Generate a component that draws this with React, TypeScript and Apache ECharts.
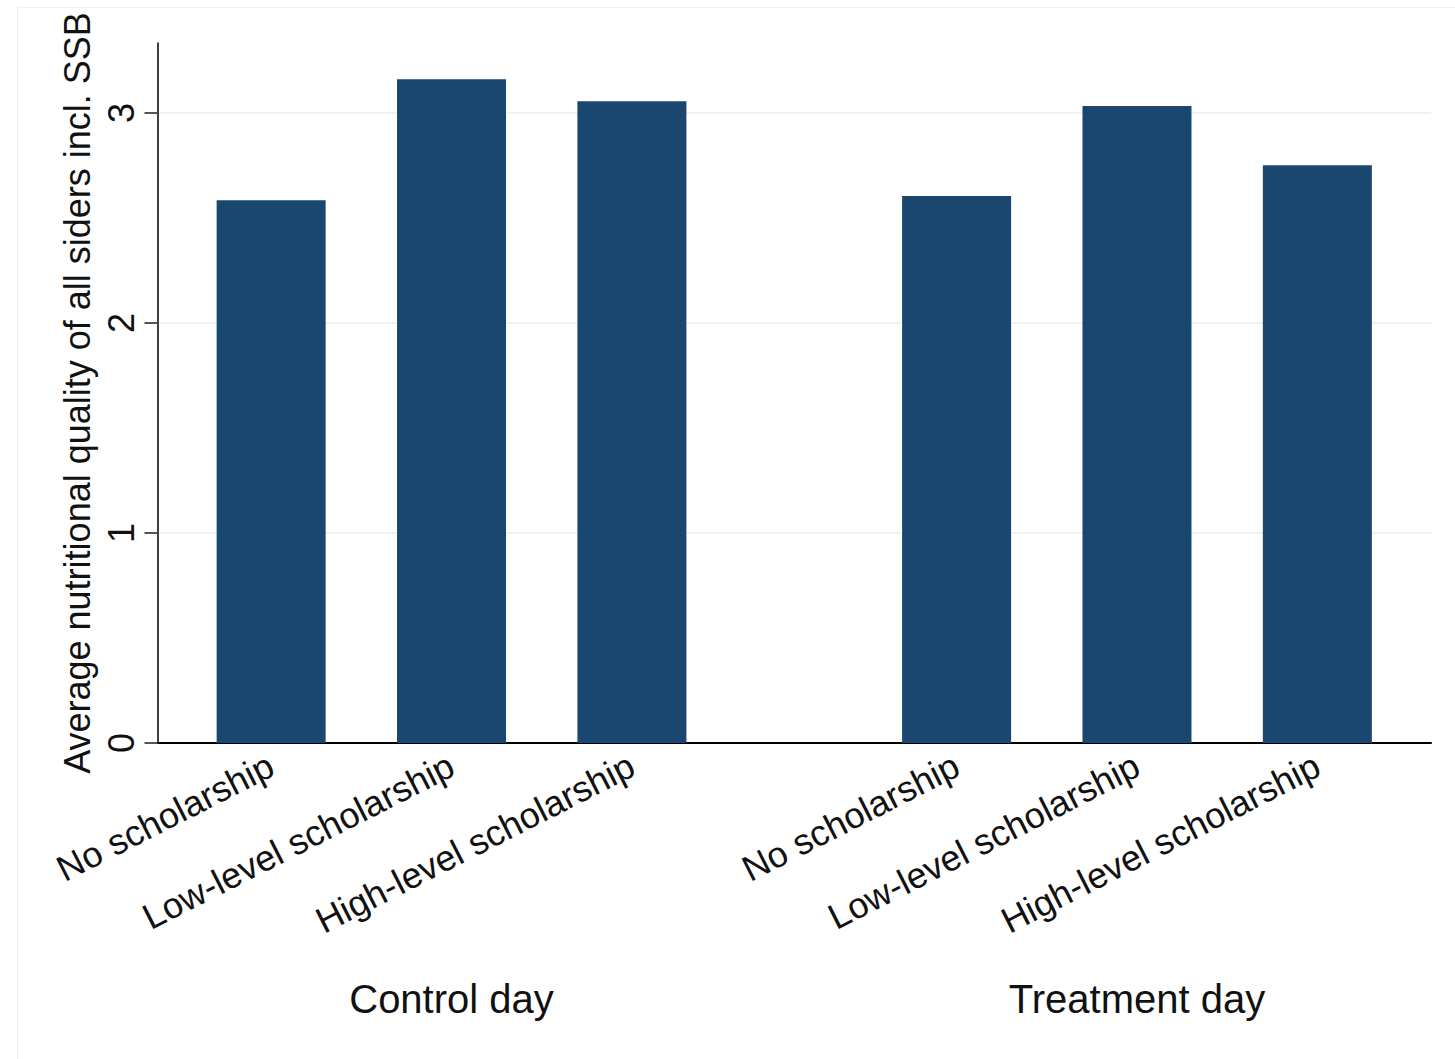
import React, { useEffect, useRef } from "react";
import * as echarts from "echarts";

const categories = [
  "No scholarship",
  "Low-level scholarship",
  "High-level scholarship",
  "No scholarship",
  "Low-level scholarship",
  "High-level scholarship",
];
const positions = [0, 1, 2, 3.8, 4.8, 5.8];
const values = [2.584, 3.16, 3.056, 2.605, 3.033, 2.751];
const groups = ["Control day", "Treatment day"];
const groupPositions = [1, 4.8];
const yTicks = [0, 1, 2, 3];
const yTitle = "Average nutritional quality of all siders incl. SSB";

const FONT = "'Liberation Sans', Arial, Helvetica, sans-serif";

function labelAt(v: number, pos: number[], labels: string[]) {
  const i = pos.findIndex((p) => Math.abs(p - v) < 1e-6);
  return i >= 0 ? labels[i] : "";
}

export default function App() {
  const ref = useRef<HTMLDivElement>(null);
  useEffect(() => {
    const chart = echarts.init(ref.current!, null, { renderer: "svg" });
    chart.setOption({
      animation: false,
      backgroundColor: "#ffffff",
      textStyle: { fontFamily: FONT },
      grid: { left: 157.5, right: 24, top: 43, bottom: 316, containLabel: false },
      xAxis: [
        {
          type: "value",
          min: -0.63,
          max: 6.43,
          axisLine: { show: true, onZero: false, lineStyle: { color: "#000", width: 2 } },
          axisTick: { show: false },
          splitLine: { show: false },
          axisLabel: {
            customValues: positions,
            formatter: (v: number) => labelAt(v, positions, categories),
            rotate: 27,
            fontSize: 36,
            color: "#111",
            margin: 20,
            fontFamily: FONT,
          },
        },
        {
          type: "value",
          min: -0.63,
          max: 6.43,
          position: "bottom",
          axisLine: { show: false },
          axisTick: { show: false },
          splitLine: { show: false },
          axisLabel: {
            customValues: groupPositions,
            formatter: (v: number) => labelAt(v, groupPositions, groups),
            fontSize: 40,
            color: "#111",
            margin: 236,
            fontFamily: FONT,
          },
        },
      ],
      yAxis: {
        type: "value",
        min: 0,
        max: 3.333,
        name: yTitle,
        nameLocation: "middle",
        nameGap: 62,
        nameTextStyle: { fontSize: 36, color: "#111", fontFamily: FONT },
        axisLine: { show: true, onZero: false, lineStyle: { color: "#000", width: 1.5 } },
        axisTick: { show: true, length: 13, customValues: yTicks, lineStyle: { color: "#555", width: 2 } },
        axisLabel: {
          customValues: yTicks,
          rotate: 90,
          fontSize: 36,
          margin: 18,
          color: "#111",
          fontFamily: FONT,
        },
        splitLine: { show: true, lineStyle: { color: "#e7f0f3", width: 1.5 } },
      },
      series: [
        {
          type: "bar",
          xAxisIndex: 0,
          data: positions.map((p, i) => [p, values[i]]),
          barWidth: 109,
          itemStyle: { color: "#1a476f" },
        },
      ],
      graphic: [
        {
          type: "rect",
          left: 15,
          top: 5,
          shape: { width: 1470, height: 1070 },
          style: { fill: "none", stroke: "#eef1f3", lineWidth: 1 },
          silent: true,
          z: -1,
        },
      ],
    });
    return () => chart.dispose();
  }, []);
  return (
    <div
      ref={ref}
      style={{ position: "absolute", left: 0, top: 0, width: 1455, height: 1059 }}
    />
  );
}
